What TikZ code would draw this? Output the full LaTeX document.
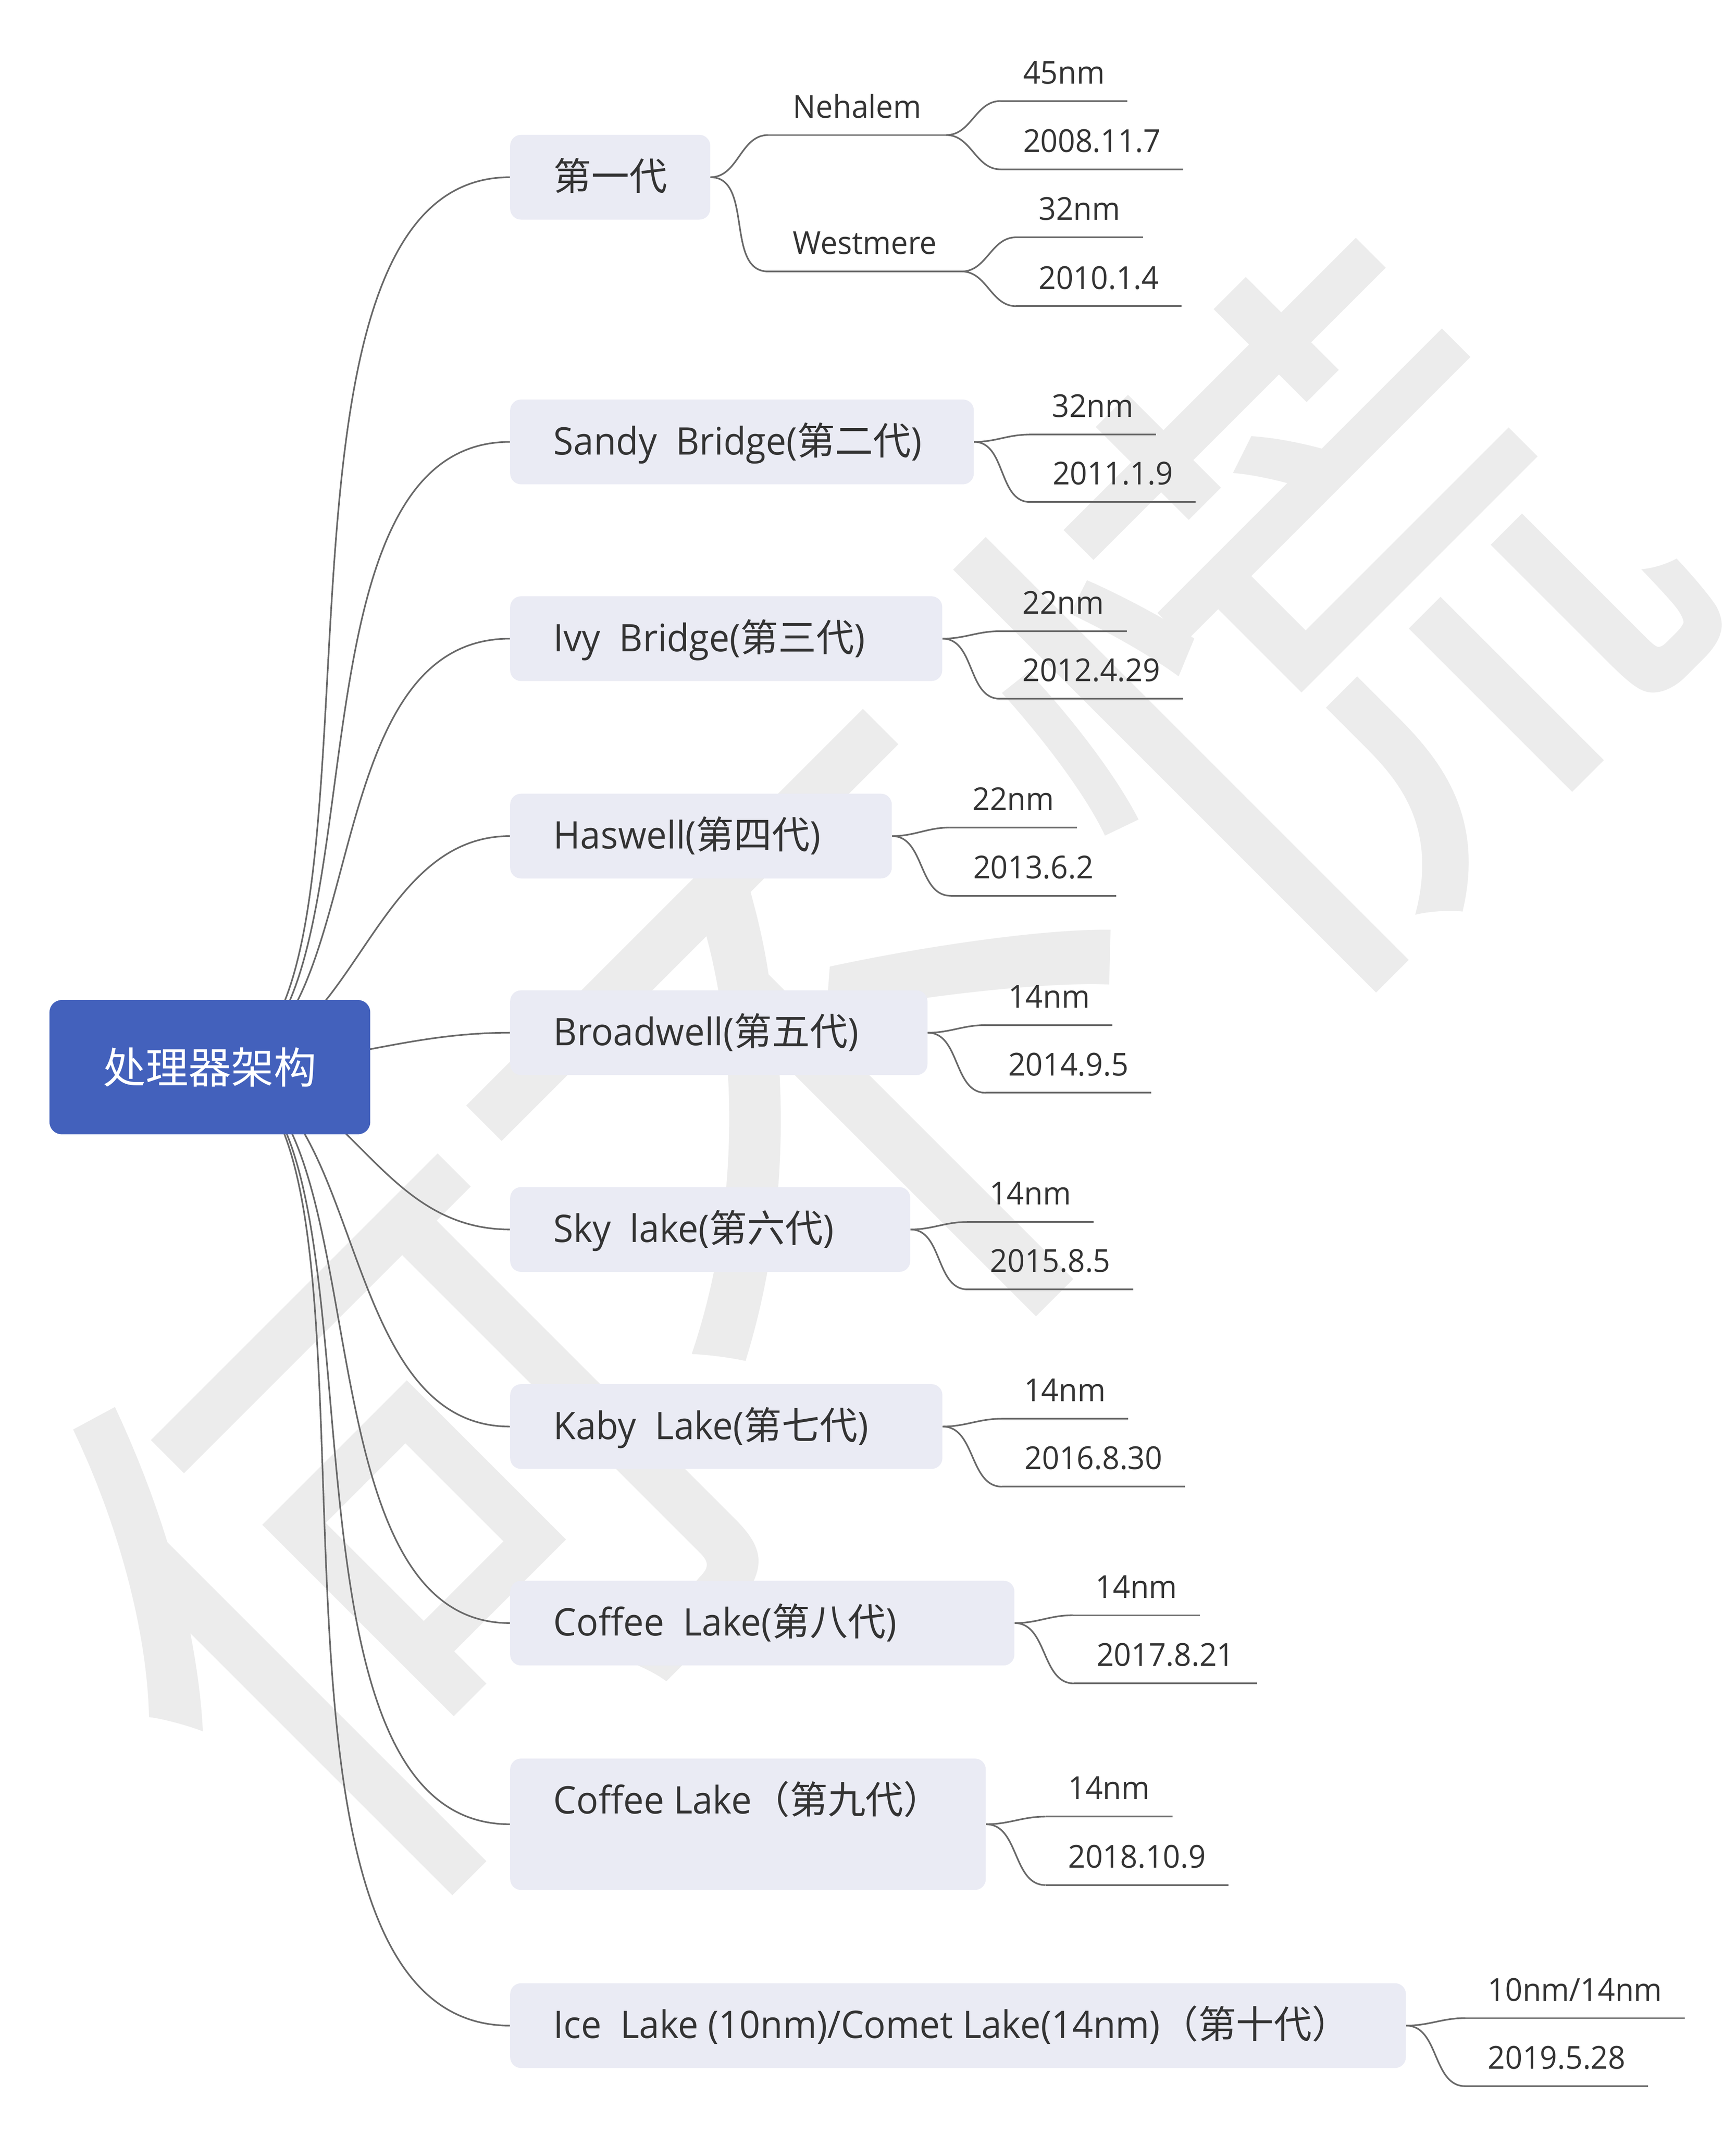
\documentclass[tikz,border=0pt]{standalone}
\usepackage{fontspec}
\setmainfont{Open Sans}[FakeStretch=0.96]
\newfontfamily\zh{Noto Sans CJK SC}
\usetikzlibrary{calc}
\definecolor{rootblue}{RGB}{67,97,188}
\definecolor{boxfill}{RGB}{234,235,244}
\definecolor{linegray}{RGB}{105,105,105}
\definecolor{txt}{RGB}{51,51,51}
\definecolor{wm}{RGB}{236,236,236}
\pgfdeclarelayer{wmlayer}
\pgfdeclarelayer{lines}
\pgfsetlayers{wmlayer,lines,main}
\begin{document}
\begin{tikzpicture}[x=1pt,y=-1pt,
  conn/.style={draw=linegray, line width=1.2pt},
  rootbox/.style={fill=rootblue, rounded corners=9pt, minimum width=236.5pt, minimum height=99pt, inner sep=0pt, text=white, font=\zh\fontsize{31.5}{38}\selectfont},
  mainbox/.style={fill=boxfill, rounded corners=8pt, minimum height=62.5pt, inner sep=0pt, anchor=north west},
  maintext/.style={anchor=base west, inner sep=0pt, text=txt, font=\fontsize{28}{34}\selectfont},
  leaf/.style={anchor=south west, inner xsep=16.5pt, inner ysep=12.5pt, text depth=0pt, text=txt, font=\fontsize{23.3}{28}\selectfont},
  wmchar/.style={rotate=45, inner sep=0pt, text=wm, font=\zh\fontsize{480}{480}\selectfont}]
\useasboundingbox (0,0) rectangle (1280,1573.8);

% background and watermark
\begin{pgfonlayer}{wmlayer}
\fill[white] (0,0) rectangle (1280,1573.8);
\node[wmchar] (w1) at (289,1131) {何};
\node[wmchar] (w2) at (634,813) {不};
\node[wmchar] (w3) at (975,462) {慌};
\end{pgfonlayer}

% root
\node[rootbox] (root) at (154.75,787) {处理器架构};

% main topic boxes
\node[mainbox, minimum width=147.5pt] (b1) at (376,99.25) {};
\node[mainbox, minimum width=341.9pt] (b2) at (376,294.45) {};
\node[mainbox, minimum width=318.6pt] (b3) at (376,439.55) {};
\node[mainbox, minimum width=281.4pt] (b4) at (376,585.15) {};
\node[mainbox, minimum width=307.7pt] (b5) at (376,730.15) {};
\node[mainbox, minimum width=295pt]   (b6) at (376,875.25) {};
\node[mainbox, minimum width=318.7pt] (b7) at (376,1020.6) {};
\node[mainbox, minimum width=371.8pt] (b8) at (376,1165.55) {};
\node[mainbox, minimum width=350.7pt, minimum height=96.9pt] (b9) at (376,1296.7) {};
\node[mainbox, minimum width=660.5pt] (b10) at (376,1462.4) {};

% main topic texts
\node[maintext] (t1) at (408,140.1) {\zh 第一代};
\node[maintext] (t2) at (408,335.3) {Sandy\ \ Bridge({\zh 第二代})};
\node[maintext] (t3) at (408,480.4) {Ivy\ \ Bridge({\zh 第三代})};
\node[maintext] (t4) at (408,626) {Haswell({\zh 第四代})};
\node[maintext] (t5) at (408,771) {Broadwell({\zh 第五代})};
\node[maintext] (t6) at (408,916.1) {Sky\ \ lake({\zh 第六代})};
\node[maintext] (t7) at (408,1061.4) {Kaby\ \ Lake({\zh 第七代})};
\node[maintext] (t8) at (408,1206.4) {Coffee\ \ Lake({\zh 第八代})};
\node[maintext] (t9) at (408,1337.5) {Coffee Lake{\zh （第九代）}};
\node[maintext] (t10) at (408,1503.2) {Ice\ \ Lake (10nm)/Comet Lake(14nm){\zh （第十代）}};

% root connectors
\begin{pgfonlayer}{lines}
\draw[conn] (root.center) .. controls +(154,0) and +(-212,0) .. (b1.west);
\draw[conn] (root.center) .. controls +(137,0) and +(-179,0) .. (b2.west);
\draw[conn] (root.center) .. controls +(122,0) and +(-150.5,0) .. (b3.west);
\draw[conn] (root.center) .. controls +(106.5,0) and +(-105,0) .. (b4.west);
\draw[conn] (root.center) .. controls +(93.3,0) and +(-80.8,0) .. (b5.west);
\draw[conn] (root.center) .. controls +(102.5,0) and +(-101.1,0) .. (b6.west);
\draw[conn] (root.center) .. controls +(116.7,0) and +(-132.5,0) .. (b7.west);
\draw[conn] (root.center) .. controls +(130.9,0) and +(-163.9,0) .. (b8.west);
\draw[conn] (root.center) .. controls +(145.4,0) and +(-195.9,0) .. (b9.west);
\draw[conn] (root.center) .. controls +(159.9,0) and +(-227.9,0) .. (b10.west);
\end{pgfonlayer}

% first generation subtree
\node[leaf, inner xsep=18.2pt] (ne) at (566.4,99.6) {Nehalem};
\node[leaf, inner xsep=18.2pt] (we) at (566.4,200.2) {Westmere};
\node[leaf] (n45) at ($(ne.south east)+(40,-25.1)$) {45nm};
\node[leaf] (n08) at ($(ne.south east)+(40,25.3)$) {2008.11.7};
\node[leaf] (w32) at ($(we.south east)+(40.1,-25.2)$) {32nm};
\node[leaf] (w10) at ($(we.south east)+(40.1,25.6)$) {2010.1.4};

% leaves of the other generations
\node[leaf] (l2a) at (759,320.5) {32nm};
\node[leaf] (l2b) at (759.5,370.2) {2011.1.9};
\node[leaf] (l3a) at (737.3,465.5) {22nm};
\node[leaf] (l3b) at (737.3,515.3) {2012.4.29};
\node[leaf] (l4a) at (700.5,610.3) {22nm};
\node[leaf] (l4b) at (701,660.6) {2013.6.2};
\node[leaf] (l5a) at (726.8,756) {14nm};
\node[leaf] (l5b) at (726.8,805.9) {2014.9.5};
\node[leaf] (l6a) at (713,901.2) {14nm};
\node[leaf] (l6b) at (713.5,950.9) {2015.8.5};
\node[leaf] (l7a) at (738.5,1046.3) {14nm};
\node[leaf] (l7b) at (739,1096.4) {2016.8.30};
\node[leaf] (l8a) at (791.2,1191.2) {14nm};
\node[leaf] (l8b) at (792,1241.5) {2017.8.21};
\node[leaf] (l9a) at (771,1339.7) {14nm};
\node[leaf] (l9b) at (771,1390.2) {2018.10.9};
\node[leaf] (l10a) at (1080.5,1488.3) {10nm/14nm};
\node[leaf] (l10b) at (1080.5,1538.5) {2019.5.28};

\begin{pgfonlayer}{lines}
\draw[conn] (b1.east) to[out=0,in=180] (ne.south west);
\draw[conn] (b1.east) to[out=0,in=180] (we.south west);
\draw[conn] (ne.south east) to[out=0,in=180] (n45.south west);
\draw[conn] (ne.south east) to[out=0,in=180] (n08.south west);
\draw[conn] (we.south east) to[out=0,in=180] (w32.south west);
\draw[conn] (we.south east) to[out=0,in=180] (w10.south west);
\foreach \n in {ne,we,n45,n08,w32,w10}
  \draw[conn] (\n.south west) -- (\n.south east);
\foreach \b/\p/\q in {b2/l2a/l2b, b3/l3a/l3b, b4/l4a/l4b, b5/l5a/l5b, b6/l6a/l6b, b7/l7a/l7b, b8/l8a/l8b, b9/l9a/l9b, b10/l10a/l10b}{
  \draw[conn] (\b.east) to[out=0,in=180] (\p.south west);
  \draw[conn] (\b.east) to[out=0,in=180] (\q.south west);
  \draw[conn] (\p.south west) -- (\p.south east);
  \draw[conn] (\q.south west) -- (\q.south east);
}
\end{pgfonlayer}
\end{tikzpicture}
\end{document}
